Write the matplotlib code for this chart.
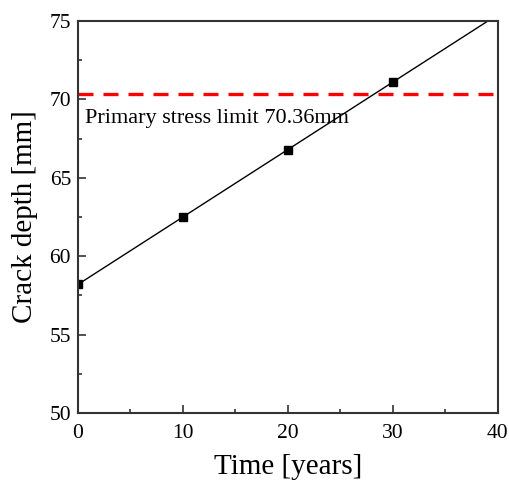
import numpy as np
import matplotlib
matplotlib.use("Agg")
import matplotlib.pyplot as plt
from matplotlib.ticker import MultipleLocator

plt.rcParams['font.family'] = ['Liberation Serif', 'DejaVu Serif']

# measured crack depths
years = [0, 10, 20, 30]
depth = [58.2, 62.5, 66.8, 71.1]
limit = 70.36
limit_label = "Primary stress limit 70.36mm"

# linear trend of the measurements
k, b = np.polyfit(years, depth, 1)
xfit = np.array([0, 40])

fig = plt.figure(figsize=(5.10, 4.87), dpi=100)
ax = fig.add_axes([0.153, 0.152, 0.823, 0.805])

ax.plot(xfit, k * xfit + b, color="black", lw=1.0)
ax.plot(years, depth, "s", color="black", ms=6)
ax.axhline(limit, color="red", ls=(0, (4.5, 3)), lw=2.4)
ax.text(0.65, 68.8, limit_label, fontsize=16, va="center", ha="left")

ax.set_xlim(0, 40)
ax.set_ylim(50, 75)
ax.xaxis.set_major_locator(MultipleLocator(10))
ax.xaxis.set_minor_locator(MultipleLocator(5))
ax.yaxis.set_major_locator(MultipleLocator(5))
ax.yaxis.set_minor_locator(MultipleLocator(2.5))
ax.tick_params(which="both", direction="in", labelsize=15.5, width=1.2, color="#333333")
ax.tick_params(which="major", length=6)
ax.tick_params(which="minor", length=3)
ax.tick_params(axis="x", which="major", pad=8)
ax.tick_params(axis="y", which="major", pad=5)
for s in ax.spines.values():
    s.set_linewidth(1.5)
    s.set_color("#333333")

ax.set_xlabel("Time [years]", fontsize=21, labelpad=8)
ax.set_ylabel("Crack depth [mm]", fontsize=21, labelpad=8)

fig.savefig("out.png", dpi=100)
